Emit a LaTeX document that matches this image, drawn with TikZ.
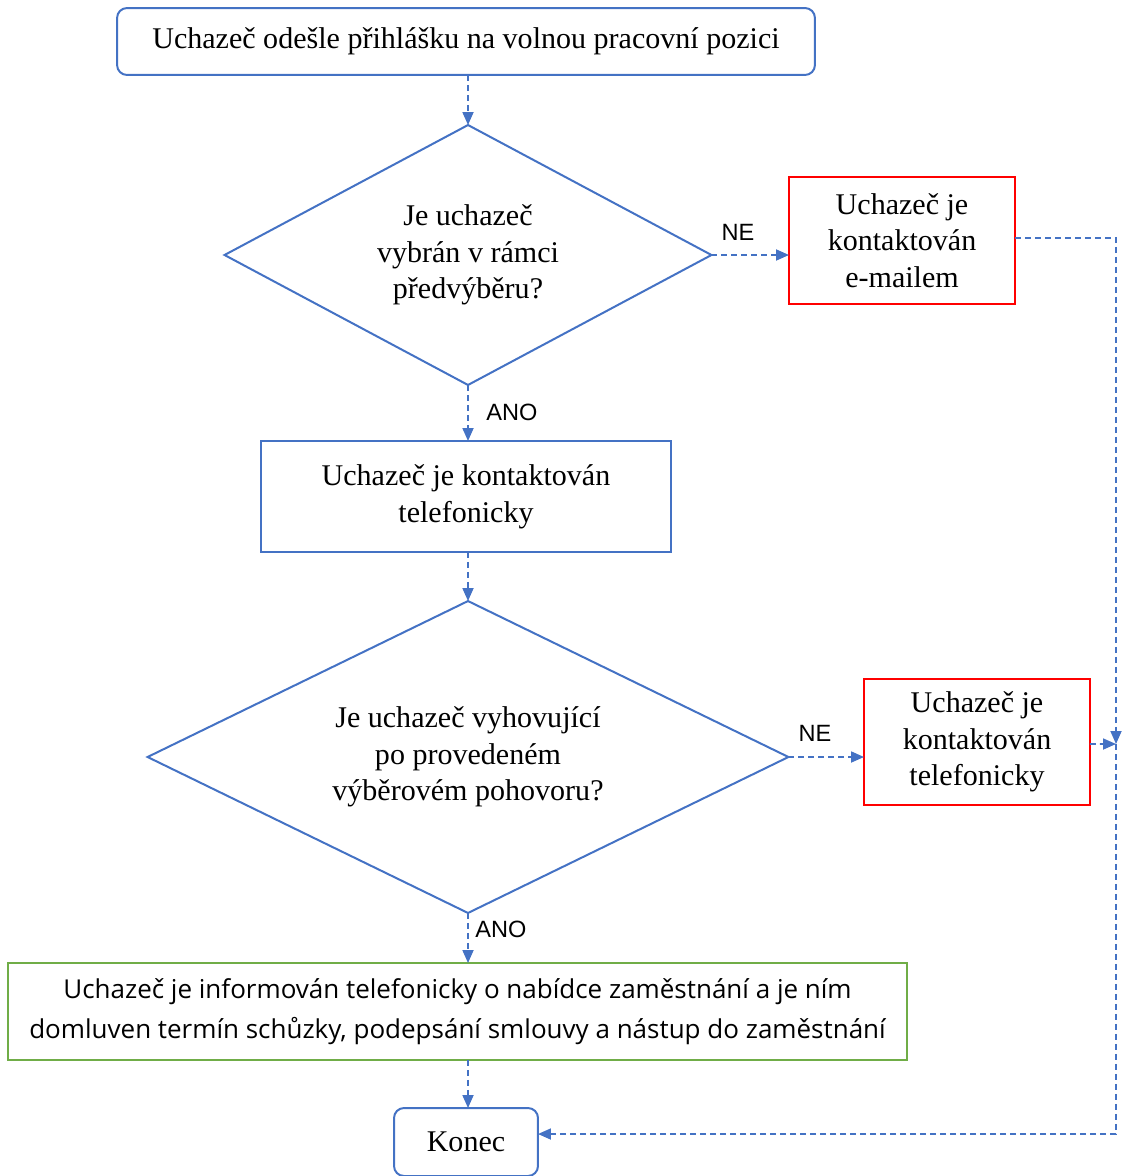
\documentclass[tikz,border=0pt]{standalone}
\usepackage{fontspec}
\setmainfont{Liberation Serif}
\newfontfamily\lblfont{Liberation Sans}
\newfontfamily\notefont{Open Sans}
\usetikzlibrary{shapes.geometric,arrows.meta}

\definecolor{flowblue}{HTML}{4472C4}
\definecolor{flowred}{HTML}{FF0000}
\definecolor{flowgreen}{HTML}{70AD47}

\tikzset{step box/.style={draw=flowblue,line width=0.04cm,align=center,inner sep=0.1cm,outer sep=0,
  font=\fontsize{17.1}{20.9}\selectfont},
start stop/.style={step box,rounded corners=0.2cm},
decision/.style={step box,diamond,aspect=1.8,inner sep=0},
reject box/.style={step box,draw=flowred},
offer box/.style={step box,draw=flowgreen,font=\notefont\fontsize{14.8}{22.7}\selectfont},
answer/.style={font=\lblfont\fontsize{13.4}{16}\selectfont,inner sep=0},
flow/.style={draw=flowblue,line width=0.036cm,dash pattern=on 0.12cm off 0.08cm,
  -{Triangle[length=0.26cm,width=0.22cm]}}}

\begin{document}
\begin{tikzpicture}[x=0.02cm,y=-0.02cm]
\useasboundingbox (0,0) rectangle (1123,1176);

%% boxes and decisions
\node [start stop,minimum width=13.96cm,minimum height=1.34cm] (start) at (466,41.5)
  {Uchazeč odešle přihlášku na volnou pracovní pozici};
\node [decision,minimum width=9.74cm,minimum height=5.2cm] (d1) at (468,255)
  {Je uchazeč\\vybrán v rámci\\předvýběru?};
\node [reject box,minimum width=4.52cm,minimum height=2.54cm] (e1) at (902,240.5)
  {Uchazeč je\\kontaktován\\e-mailem};
\node [step box,minimum width=8.2cm,minimum height=2.22cm] (call) at (466,496.5)
  {Uchazeč je kontaktován\\telefonicky};
\node [decision,minimum width=12.82cm,minimum height=6.24cm] (d2) at (468,757)
  {Je uchazeč vyhovující\\po provedeném\\výběrovém pohovoru?};
\node [reject box,minimum width=4.52cm,minimum height=2.52cm] (e2) at (977,742)
  {Uchazeč je\\kontaktován\\telefonicky};
\node [offer box,minimum width=17.98cm,minimum height=1.94cm] (offer) at (457.5,1011.5)
  {Uchazeč je informován telefonicky o nabídce zaměstnání a je ním\\domluven termín schůzky, podepsání smlouvy a nástup do zaměstnání};
\node [start stop,minimum width=2.88cm,minimum height=1.36cm] (end) at (466,1142) {Konec};

\coordinate (join) at (1116,744);

%% connectors
\draw [flow] (start.south -| d1.north) -- (d1.north);
\draw [flow] (d1.east) -- (e1.west |- d1.east);
\draw [flow] (d1.south) -- (d1.south |- call.north);
\draw [flow] (call.south -| d2.north) -- (d2.north);
\draw [flow] (d2.east) -- (e2.west |- d2.east);
\draw [flow] (d2.south) -- (d2.south |- offer.north);
\draw [flow] (offer.south -| d2.south) -- (d2.south |- end.north);
\draw [flow] ([yshift=0.05cm]e1.east) -| (join);
\draw [flow] ([yshift=-0.04cm]e2.east) -- (join);
\draw [flow] (join) |- ([yshift=0.16cm]end.east);

%% answer labels
\node [answer] (ne1) at (738,232) {NE};
\node [answer] (ano1) at (512,412) {ANO};
\node [answer] (ne2) at (815,733) {NE};
\node [answer] (ano2) at (501,929) {ANO};

\end{tikzpicture}
\end{document}
